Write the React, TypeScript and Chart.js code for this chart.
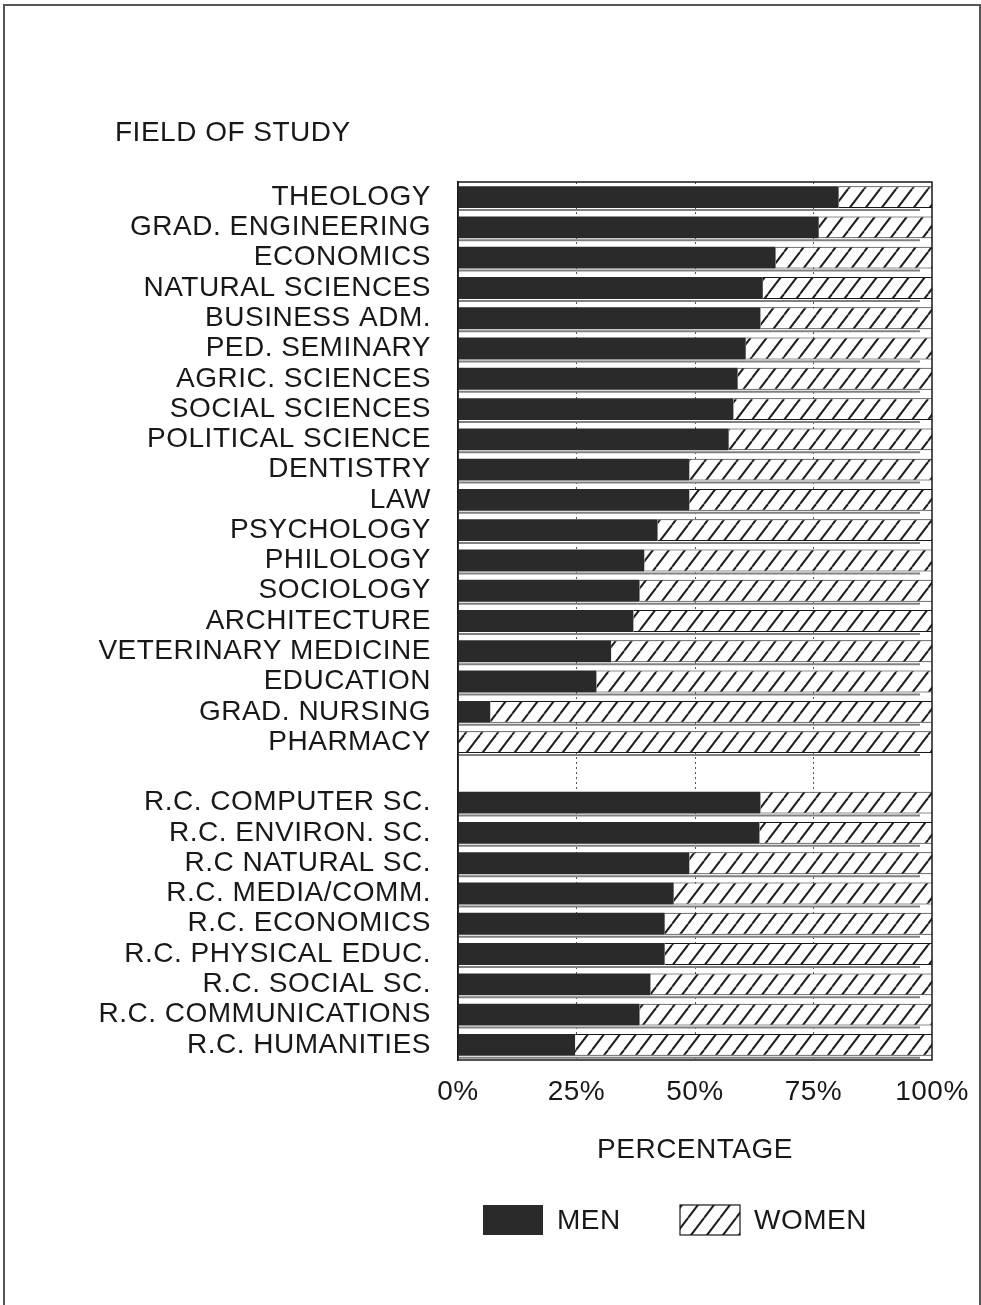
import React, { useEffect, useRef } from "react";
import { Chart, registerables } from "chart.js";
Chart.register(...registerables);

const categories = [
  "THEOLOGY",
  "GRAD. ENGINEERING",
  "ECONOMICS",
  "NATURAL SCIENCES",
  "BUSINESS ADM.",
  "PED. SEMINARY",
  "AGRIC. SCIENCES",
  "SOCIAL SCIENCES",
  "POLITICAL SCIENCE",
  "DENTISTRY",
  "LAW",
  "PSYCHOLOGY",
  "PHILOLOGY",
  "SOCIOLOGY",
  "ARCHITECTURE",
  "VETERINARY MEDICINE",
  "EDUCATION",
  "GRAD. NURSING",
  "PHARMACY",
  "",
  "R.C. COMPUTER SC.",
  "R.C. ENVIRON. SC.",
  "R.C NATURAL SC.",
  "R.C. MEDIA/COMM.",
  "R.C. ECONOMICS",
  "R.C. PHYSICAL EDUC.",
  "R.C. SOCIAL SC.",
  "R.C. COMMUNICATIONS",
  "R.C. HUMANITIES",
];

const menValues = [
  80.3, 76.1, 67.0, 64.3, 63.8, 60.7, 59.0, 58.1, 57.1, 48.8, 48.8, 42.1, 39.3,
  38.3, 37.0, 32.3, 29.2, 6.8, 0, null, 63.8, 63.6, 48.8, 45.5, 43.6, 43.6,
  40.6, 38.3, 24.7,
];

const womenValues = [
  19.7, 23.9, 33.0, 35.7, 36.2, 39.3, 41.0, 41.9, 42.9, 51.2, 51.2, 57.9, 60.7,
  61.7, 63.0, 67.7, 70.8, 93.2, 100, null, 36.2, 36.4, 51.2, 54.5, 56.4, 56.4,
  59.4, 61.7, 75.3,
];

const xTicks = [0, 25, 50, 75, 100];
const seriesNames = ["MEN", "WOMEN"];
const titleText = "FIELD OF STUDY";
const axisTitle = "PERCENTAGE";

const FONT = "'Liberation Sans', Arial, Helvetica, sans-serif";
const FSIZE = 28;
const SPACING = "0.5px";
const INK = "#181818";
const MEN_COLOR = "#2a2a2a";

function makeHatch(): CanvasPattern | string {
  const w = 16;
  const h = 21;
  const c = document.createElement("canvas");
  c.width = w;
  c.height = h;
  const g = c.getContext("2d");
  if (!g) return "#fff";
  g.fillStyle = "#ffffff";
  g.fillRect(0, 0, w, h);
  g.strokeStyle = "#1e1e1e";
  g.lineWidth = 2;
  for (const off of [-w, 0, w]) {
    g.beginPath();
    g.moveTo(off, h);
    g.lineTo(off + w, 0);
    g.stroke();
  }
  const p = g.createPattern(c, "repeat");
  return p || "#fff";
}

export default function App() {
  const ref = useRef<HTMLCanvasElement | null>(null);

  useEffect(() => {
    if (!ref.current) return;
    const hatch = makeHatch();

    const decor = {
      id: "decor",
      beforeLayout(chart: any) {
        chart.ctx.letterSpacing = SPACING;
      },
      beforeDraw(chart: any) {
        chart.ctx.letterSpacing = SPACING;
      },
      beforeDatasetsDraw(chart: any) {
        const { ctx } = chart;
        const xs = chart.scales.x;
        const meta = chart.getDatasetMeta(0);
        ctx.save();
        ctx.strokeStyle = "#808080";
        ctx.lineWidth = 2;
        meta.data.forEach((el: any, i: number) => {
          if (menValues[i] === null) return;
          const y = el.y + el.height / 2 + 2;
          ctx.beginPath();
          ctx.moveTo(xs.left, y);
          ctx.lineTo(xs.right - 12, y);
          ctx.stroke();
        });
        ctx.restore();
      },
      afterDraw(chart: any) {
        const { ctx, chartArea: a } = chart;
        ctx.save();
        ctx.letterSpacing = SPACING;
        // frame
        ctx.strokeStyle = INK;
        ctx.lineWidth = 1.5;
        ctx.strokeRect(a.left, a.top, a.right - a.left, a.bottom - a.top);
        // title
        ctx.fillStyle = INK;
        ctx.font = `${FSIZE}px ${FONT}`;
        ctx.textAlign = "left";
        ctx.textBaseline = "middle";
        ctx.fillText(titleText, 115, a.top - 49);
        // legend
        const ly = a.bottom + 160;
        const bw = 60;
        const bh = 30;
        const x1 = 483;
        ctx.fillStyle = MEN_COLOR;
        ctx.fillRect(x1, ly - bh / 2, bw, bh);
        ctx.fillStyle = INK;
        ctx.fillText(seriesNames[0], x1 + bw + 14, ly + 1);
        const x2 = 680;
        ctx.fillStyle = hatch as any;
        ctx.fillRect(x2, ly - bh / 2, bw, bh);
        ctx.strokeStyle = INK;
        ctx.lineWidth = 1.2;
        ctx.strokeRect(x2, ly - bh / 2, bw, bh);
        ctx.fillStyle = INK;
        ctx.fillText(seriesNames[1], x2 + bw + 14, ly + 1);
        ctx.restore();
      },
    };

    const chart = new Chart(ref.current, {
      type: "bar",
      data: {
        labels: categories,
        datasets: [
          {
            label: seriesNames[0],
            data: menValues as any,
            backgroundColor: MEN_COLOR,
            borderWidth: 0,
            barPercentage: 0.76,
            categoryPercentage: 0.95,
          },
          {
            label: seriesNames[1],
            data: womenValues as any,
            backgroundColor: hatch as any,
            borderColor: INK,
            borderWidth: { top: 1, bottom: 1, right: 0, left: 0 } as any,
            borderSkipped: false,
            barPercentage: 0.76,
            categoryPercentage: 0.95,
          },
        ],
      },
      options: {
        indexAxis: "y",
        responsive: false,
        animation: false,
        layout: { padding: { top: 182, right: 49, left: 0, bottom: 125 } },
        plugins: {
          legend: { display: false },
          title: { display: false },
          tooltip: { enabled: false },
        },
        scales: {
          x: {
            stacked: true,
            min: 0,
            max: 100,
            afterBuildTicks(scale: any) {
              scale.ticks = xTicks.map((v) => ({ value: v }));
            },
            afterFit(scale: any) {
              scale.height = 120;
              scale.paddingRight = 0;
              scale.paddingLeft = 0;
            },
            ticks: {
              callback: (v: any) => `${v}%`,
              font: { family: FONT, size: FSIZE },
              color: INK,
              padding: 15,
              maxRotation: 0,
            },
            grid: {
              drawTicks: false,
              color: (c: any) =>
                c.tick && (c.tick.value === 0 || c.tick.value === 100)
                  ? "rgba(0,0,0,0)"
                  : "#555555",
              lineWidth: 1,
            },
            border: { display: false, dash: [2, 3] },
            title: {
              display: true,
              text: axisTitle,
              font: { family: FONT, size: FSIZE },
              color: INK,
              padding: { top: 0, bottom: 13 },
            },
          },
          y: {
            stacked: true,
            afterFit(scale: any) {
              scale.width = 458;
            },
            ticks: {
              autoSkip: false,
              font: { family: FONT, size: FSIZE },
              color: INK,
              padding: 27,
            },
            grid: { display: false, drawTicks: false },
            border: { display: true, color: INK, width: 1.5 },
          },
        },
      },
      plugins: [decor],
    });
    return () => chart.destroy();
  }, []);

  return (
    <div style={{ position: "absolute", left: 0, top: 0, width: 981, height: 1305, background: "#fff" }}>
      <canvas ref={ref} width={981} height={1305} style={{ display: "block" }} />
      <div
        style={{
          position: "absolute",
          left: 3,
          top: 4,
          width: 974,
          height: 1301,
          borderTop: "2px solid #555",
          borderLeft: "2px solid #555",
          borderRight: "2px solid #555",
          pointerEvents: "none",
        }}
      />
    </div>
  );
}
